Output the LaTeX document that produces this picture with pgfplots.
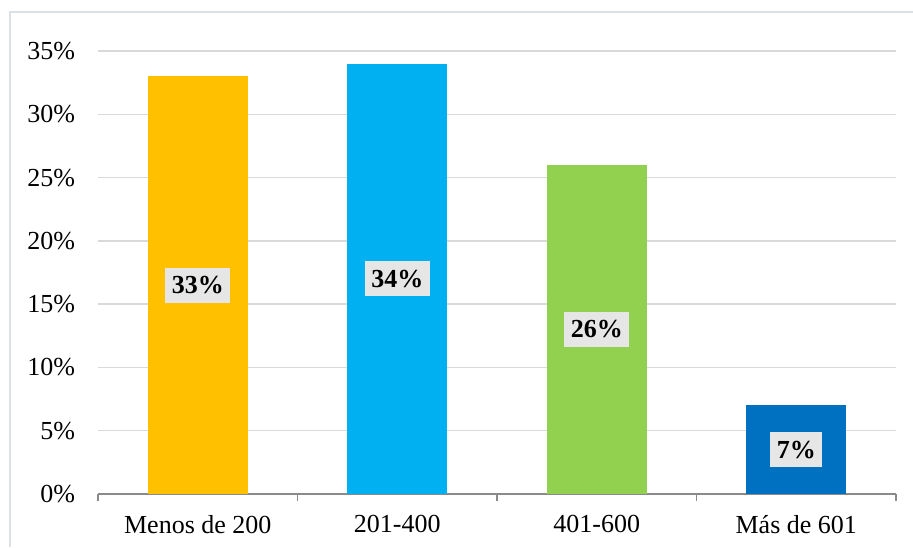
\documentclass[border=0pt]{standalone}
\usepackage{fontspec}
\setmainfont{Liberation Serif}
\usepackage{pgfplots}
\pgfplotsset{compat=1.18}
\definecolor{cOrange}{HTML}{FFC000}
\definecolor{cCyan}{HTML}{00B0F0}
\definecolor{cGreen}{HTML}{92D050}
\definecolor{cBlue}{HTML}{0070C0}
\definecolor{labelgray}{HTML}{E6E6E6}
\definecolor{gridgray}{HTML}{D9D9D9}
\definecolor{axisgray}{HTML}{8A8A8A}
\definecolor{bordercol}{HTML}{DCE1E6}
\begin{document}
\begin{tikzpicture}
\path[use as bounding box] (0,0) rectangle (456.5pt,273.5pt);
\draw[bordercol, line width=0.8pt] (5pt,0) -- (5pt,267.5pt) -- (456.5pt,267.5pt);
\begin{axis}[
  at={(49pt,26.5pt)}, anchor=south west,
  scale only axis, width=399pt, height=221.5pt,
  xmin=-0.5, xmax=3.5, ymin=0, ymax=35,
  axis x line*=bottom, axis y line*=left,
  y axis line style={draw=none},
  x axis line style={draw=axisgray, line width=0.75pt, -},
  ytick={0,5,...,35},
  yticklabels={0\%,5\%,10\%,15\%,20\%,25\%,30\%,35\%},
  xtick={0,1,2,3},
  xticklabels={Menos de 200,201-400,401-600,Más de 601},
  minor xtick={-0.5,0.5,1.5,2.5,3.5},
  major tick length=0pt,
  minor tick length=3.5pt,
  minor tick style={draw=axisgray, line width=0.75pt},
  tick align=outside,
  ymajorgrids,
  major grid style={draw=gridgray, line width=0.75pt},
  tick label style={font=\fontsize{13}{15}\selectfont, text=black},
  yticklabel style={xshift=-8pt},
  xticklabel style={yshift=-7pt},
  visualization depends on={y \as \rawy},
  nodes near coords={\pgfmathprintnumber[assume math mode=true]{\pgfplotspointmeta}\%},
  nodes near coords style={font=\bfseries\fontsize{13}{15}\selectfont, fill=labelgray, text=black,
    anchor=center, inner xsep=3.2pt, inner ysep=4.4pt,
    shift={(axis direction cs:0,-\rawy/2)}},
]
\addplot[ybar, bar width=50pt, fill=cOrange, draw=none] coordinates {(0,33)};
\addplot[ybar, bar width=50pt, fill=cCyan, draw=none] coordinates {(1,34)};
\addplot[ybar, bar width=50pt, fill=cGreen, draw=none] coordinates {(2,26)};
\addplot[ybar, bar width=50pt, fill=cBlue, draw=none] coordinates {(3,7)};
\end{axis}
\end{tikzpicture}
\end{document}
